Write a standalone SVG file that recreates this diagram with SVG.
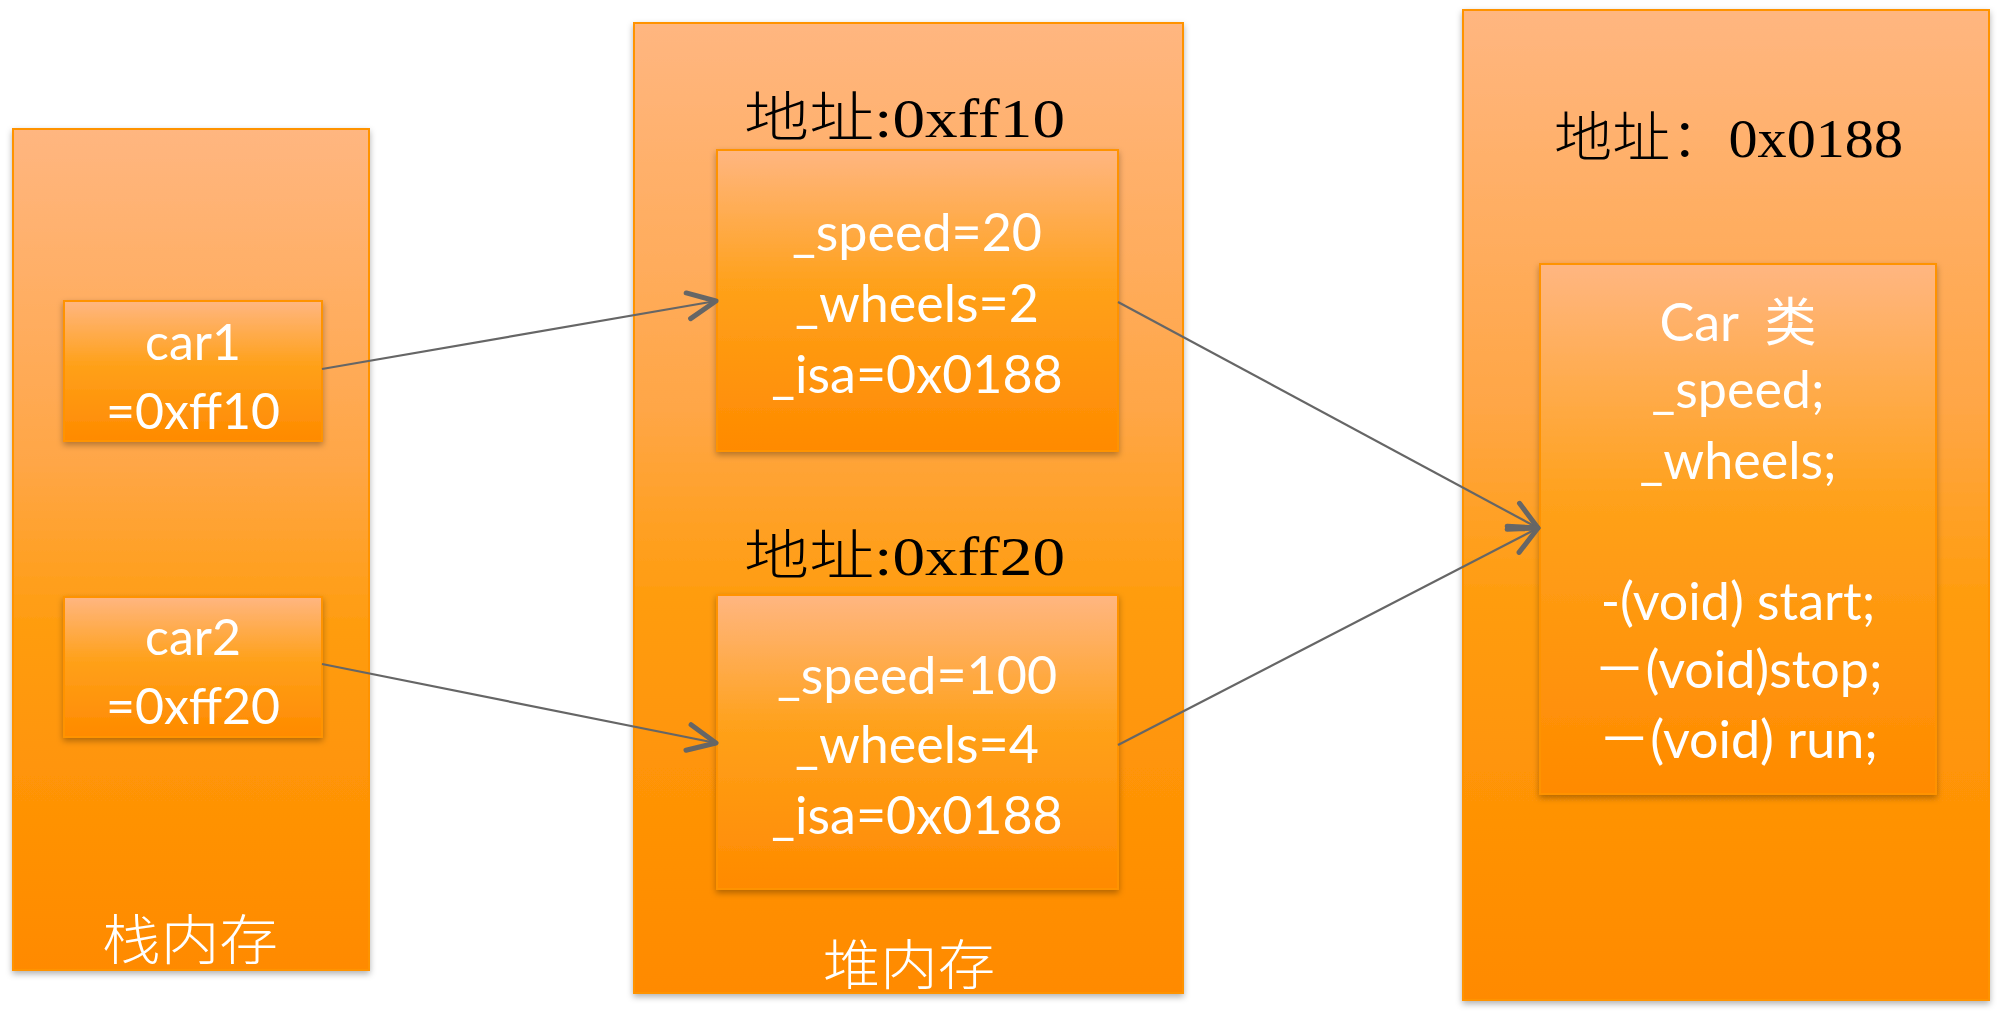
<svg xmlns="http://www.w3.org/2000/svg" width="2000" height="1032" viewBox="0 0 2000 1032">
  <defs>
    <linearGradient id="gOuter" x1="0" y1="0" x2="0" y2="1">
      <stop offset="0" stop-color="#FFB680"/>
      <stop offset="0.4" stop-color="#FFA646"/>
      <stop offset="0.6" stop-color="#FF9C0C"/>
      <stop offset="1" stop-color="#FF8A00"/>
    </linearGradient>
    <linearGradient id="gInner" x1="0" y1="0" x2="0" y2="1">
      <stop offset="0" stop-color="#FFB681"/>
      <stop offset="0.45" stop-color="#FFA11A"/>
      <stop offset="1" stop-color="#FF8A00"/>
    </linearGradient>
    <filter id="shadow" x="-10%" y="-10%" width="120%" height="120%">
      <feDropShadow dx="0" dy="3" stdDeviation="3" flood-color="#000000" flood-opacity="0.3"/>
    </filter>
    <marker id="arrow" markerUnits="userSpaceOnUse" viewBox="-34 -18 40 36" refX="0" refY="0" markerWidth="40" markerHeight="36" orient="auto">
      <path d="M -28 -13 L 0 0 L -28 13" fill="none" stroke="#666666" stroke-width="5" stroke-linecap="round" stroke-linejoin="round"/>
    </marker>
    <style>
      .outer { fill: url(#gOuter); stroke: #FF9300; stroke-width: 2; filter: url(#shadow); }
      .inner { fill: url(#gInner); stroke: #FF9300; stroke-width: 2; filter: url(#shadow); }
      .body { font-family: Lato, "Open Sans", "Noto Sans CJK SC", sans-serif; font-size: 52px; fill: #FFFFFF; text-anchor: middle; }
      .stackval { font-family: Lato, "Open Sans", sans-serif; font-size: 50px; fill: #FFFFFF; text-anchor: middle; }
      .addr { font-family: "Liberation Serif", "Noto Sans CJK SC", serif; font-size: 54px; font-weight: 300; fill: #000000; }
      .title { font-family: "Liberation Serif", "Noto Sans CJK SC", serif; font-size: 54px; font-weight: 300; fill: #FFFFFF; }
      .conn { fill: none; stroke: #666666; stroke-width: 2.2; marker-end: url(#arrow); }
    </style>
  </defs>

  <rect width="2000" height="1032" fill="#FFFFFF"/>

  <g id="stack">
    <rect class="outer" x="13" y="129" width="356" height="841"/>
    <text class="title" x="102" y="960" textLength="176" lengthAdjust="spacingAndGlyphs">栈内存</text>
  </g>

  <g id="car1">
    <rect class="inner" x="64" y="301" width="258" height="140"/>
    <text class="stackval" x="193" y="360">car1</text>
    <text class="stackval" x="193" y="429">=0xff10</text>
  </g>

  <g id="car2">
    <rect class="inner" x="64" y="597" width="258" height="140"/>
    <text class="stackval" x="193" y="655">car2</text>
    <text class="stackval" x="193" y="724">=0xff20</text>
  </g>

  <g id="heap">
    <rect class="outer" x="634" y="23" width="549" height="970"/>
    <text class="addr" x="744" y="137" textLength="321" lengthAdjust="spacingAndGlyphs">地址:0xff10</text>
    <text class="addr" x="744" y="575" textLength="321" lengthAdjust="spacingAndGlyphs">地址:0xff20</text>
    <text class="title" x="823" y="985" textLength="172" lengthAdjust="spacingAndGlyphs">堆内存</text>
  </g>

  <g id="obj1">
    <rect class="inner" x="717" y="150" width="401" height="301"/>
    <text class="body" x="917" y="251">_speed=20</text>
    <text class="body" x="917" y="322">_wheels=2</text>
    <text class="body" x="917" y="393">_isa=0x0188</text>
  </g>

  <g id="obj2">
    <rect class="inner" x="717" y="595" width="401" height="294"/>
    <text class="body" x="917" y="694">_speed=100</text>
    <text class="body" x="917" y="763">_wheels=4</text>
    <text class="body" x="917" y="834">_isa=0x0188</text>
  </g>

  <g id="classarea">
    <rect class="outer" x="1463" y="10" width="526" height="990"/>
    <text class="addr" x="1554" y="157" textLength="349" lengthAdjust="spacingAndGlyphs">地址：0x0188</text>
  </g>

  <g id="carclass">
    <rect class="inner" x="1540" y="264" width="396" height="530"/>
    <text class="body" x="1738" y="341" xml:space="preserve">Car  类</text>
    <text class="body" x="1738" y="408">_speed;</text>
    <text class="body" x="1738" y="479">_wheels;</text>
    <text class="body" x="1738" y="620">-(void) start;</text>
    <text class="body" x="1738" y="688">－(void)stop;</text>
    <text class="body" x="1738" y="758">－(void) run;</text>
  </g>

  <g id="connectors">
    <line class="conn" x1="322" y1="369" x2="716" y2="301"/>
    <line class="conn" x1="322" y1="664" x2="716" y2="743"/>
    <line class="conn" x1="1118" y1="302" x2="1538" y2="528"/>
    <line class="conn" x1="1118" y1="745" x2="1538" y2="528"/>
  </g>
</svg>
